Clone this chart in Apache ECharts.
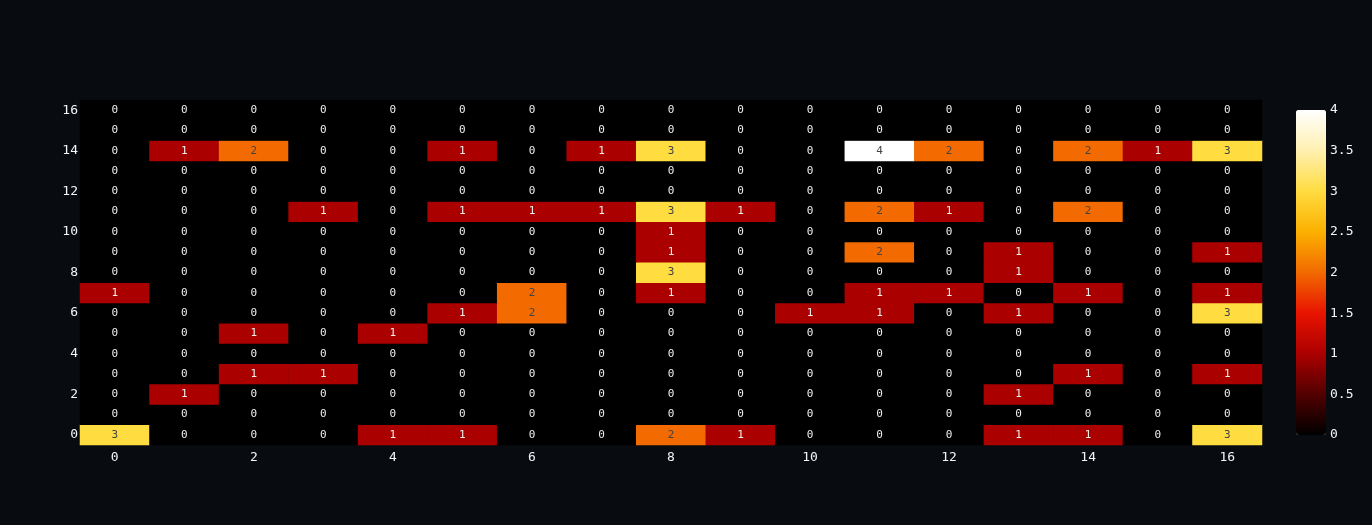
<!DOCTYPE html>
<html><head><meta charset="utf-8">
<script src="https://cdn.jsdelivr.net/npm/echarts@6/dist/echarts.min.js"></script>
<style>html,body{margin:0;padding:0;background:#080c10;}#c{width:1372px;height:525px;}</style>
</head><body><div id="c"></div>
<script>
const xCategories = ['0','1','2','3','4','5','6','7','8','9','10','11','12','13','14','15','16'];
const yCategories = ['0','1','2','3','4','5','6','7','8','9','10','11','12','13','14','15','16'];
// rows from y=0 (bottom) to y=16 (top)
const row0  = [3,0,0,0,1,1,0,0,2,1,0,0,0,1,1,0,3];
const row1  = [0,0,0,0,0,0,0,0,0,0,0,0,0,0,0,0,0];
const row2  = [0,1,0,0,0,0,0,0,0,0,0,0,0,1,0,0,0];
const row3  = [0,0,1,1,0,0,0,0,0,0,0,0,0,0,1,0,1];
const row4  = [0,0,0,0,0,0,0,0,0,0,0,0,0,0,0,0,0];
const row5  = [0,0,1,0,1,0,0,0,0,0,0,0,0,0,0,0,0];
const row6  = [0,0,0,0,0,1,2,0,0,0,1,1,0,1,0,0,3];
const row7  = [1,0,0,0,0,0,2,0,1,0,0,1,1,0,1,0,1];
const row8  = [0,0,0,0,0,0,0,0,3,0,0,0,0,1,0,0,0];
const row9  = [0,0,0,0,0,0,0,0,1,0,0,2,0,1,0,0,1];
const row10 = [0,0,0,0,0,0,0,0,1,0,0,0,0,0,0,0,0];
const row11 = [0,0,0,1,0,1,1,1,3,1,0,2,1,0,2,0,0];
const row12 = [0,0,0,0,0,0,0,0,0,0,0,0,0,0,0,0,0];
const row13 = [0,0,0,0,0,0,0,0,0,0,0,0,0,0,0,0,0];
const row14 = [0,1,2,0,0,1,0,1,3,0,0,4,2,0,2,1,3];
const row15 = [0,0,0,0,0,0,0,0,0,0,0,0,0,0,0,0,0];
const row16 = [0,0,0,0,0,0,0,0,0,0,0,0,0,0,0,0,0];
const rows = [row0,row1,row2,row3,row4,row5,row6,row7,row8,row9,row10,row11,row12,row13,row14,row15,row16];
const colorbarTicks = [0,0.5,1,1.5,2,2.5,3,3.5,4];

const FONT = 'DejaVu Sans Mono';
const TXT = '#f2f5fa';
const data = [];
rows.forEach((r, yi) => r.forEach((v, xi) => {
  data.push({value:[xi, yi, v], label:{color: v >= 2 ? '#444444' : '#eeeeee'}});
}));

const chart = echarts.init(document.getElementById('c'));
chart.setOption({
  backgroundColor: '#080c10',
  animation: false,
  grid: [
    {left:80, right:110, top:100, bottom:80, show:true, backgroundColor:'#000000', borderWidth:0},
    {left:1296, width:30, top:110, height:325, show:false}
  ],
  xAxis: [
    {type:'category', data:xCategories, gridIndex:0,
     axisLine:{show:false}, axisTick:{show:false}, splitLine:{show:false},
     axisLabel:{interval:1, color:TXT, fontFamily:FONT, fontSize:13, margin:6}},
    {type:'value', gridIndex:1, show:false, min:0, max:1}
  ],
  yAxis: [
    {type:'category', data:yCategories, gridIndex:0,
     axisLine:{show:false}, axisTick:{show:false}, splitLine:{show:false},
     axisLabel:{interval:1, color:TXT, fontFamily:FONT, fontSize:13, margin:2}},
    {type:'value', gridIndex:1, min:0, max:4, interval:0.5, position:'right',
     axisLine:{show:false}, axisTick:{show:false}, splitLine:{show:false},
     axisLabel:{color:TXT, fontFamily:FONT, fontSize:13, margin:4,
       formatter: v => colorbarTicks.indexOf(v) >= 0 ? String(v) : ''}}
  ],
  visualMap: {
    type:'continuous', min:0, max:4, seriesIndex:0, calculable:false,
    orient:'vertical', left:1296, top:110, itemWidth:30, itemHeight:325,
    padding:0, text:null, showLabel:false,
    inRange:{color:['#000000','#520000','#ab0000','#e81400','#f26a00','#fbb000','#ffdc40','#fff0b0','#ffffff']}
  },
  series: [{
    type:'heatmap', xAxisIndex:0, yAxisIndex:0, data:data,
    label:{show:true, fontFamily:FONT, fontSize:11, formatter:p => String(p.value[2])},
    itemStyle:{borderWidth:0},
    emphasis:{disabled:true}
  }]
});
</script>
</body></html>
